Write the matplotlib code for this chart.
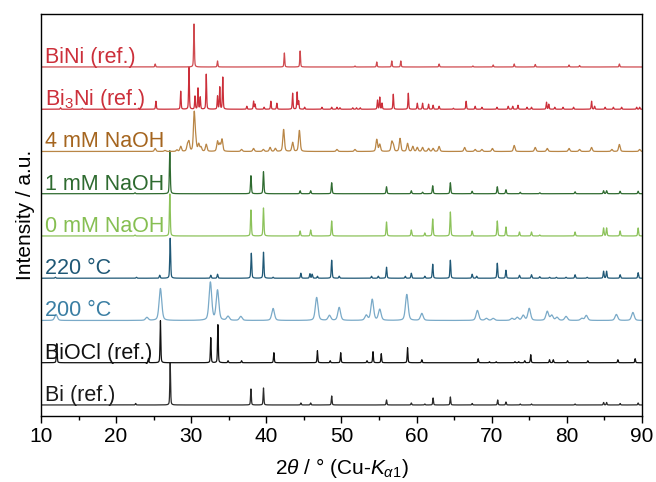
import numpy as np
import matplotlib.pyplot as plt
from matplotlib.ticker import MultipleLocator

plt.rcParams['font.family'] = ['Liberation Sans', 'DejaVu Sans']
plt.rcParams['mathtext.fontset'] = 'custom'
plt.rcParams['mathtext.rm'] = 'Liberation Sans'
plt.rcParams['mathtext.it'] = 'Liberation Sans:italic'

# peak lists: 2theta (deg) and height (same units as the offset step)
bini_pos = [25.2, 30.37, 33.5, 42.4, 44.5, 51.8, 54.7, 56.7, 57.9, 63.0, 67.5, 70.2, 73.0, 75.8, 80.3, 81.7, 87.0]
bini_h = [3, 43, 6, 14, 16, 1, 5, 6, 6, 3, 1, 2, 3, 2.5, 2, 1.5, 3]

bi3ni_pos = [12.6, 15.5, 23.0, 25.3, 28.6, 29.7, 30.5, 30.9, 31.2, 32.0, 33.5, 33.8, 34.2,
             37.4, 38.3, 38.5, 39.7, 40.6, 41.4, 43.5, 44.1, 44.3, 45.1, 47.4, 48.7, 49.4, 49.8,
             51.5, 52.0, 52.5, 54.8, 55.1, 55.4, 56.9, 58.9, 60.1, 60.8, 61.6, 62.2, 63.0,
             64.9, 66.6, 67.8, 68.7, 70.7, 72.2, 72.8, 73.5, 74.7, 75.3, 77.3, 77.6, 78.4, 79.5,
             80.9, 83.3, 83.7, 85.1, 86.2, 87.3, 89.3, 89.7]
bi3ni_h = [1.5, 1, 1, 8, 18, 42, 13, 21, 12, 35, 13, 22, 32,
           3, 8, 5, 2, 8, 6, 16, 17, 8, 2, 2, 2, 2, 1.5,
           1.5, 1.5, 1.5, 9, 12, 6, 15, 16, 6, 6, 5, 4, 3,
           1, 8, 3, 2, 2, 3, 3, 4, 2, 2, 7, 5, 2, 2,
           2, 8, 3, 2, 2, 2, 2, 2]

naoh4_pos = [25.2, 26.5, 28.1, 28.6, 29.5, 29.7, 30.4, 30.6, 31.0, 31.3, 32.0, 33.5, 33.8, 34.1,
             36.7, 38.3, 39.6, 40.5, 41.2, 42.3, 43.5, 44.4, 49.4, 51.8, 54.7, 55.1, 56.7, 56.9,
             57.8, 58.8, 59.5, 60.1, 60.8, 61.6, 62.2, 63.0, 66.4, 67.8, 68.7, 70.1, 73.0, 75.8,
             77.4, 80.3, 81.7, 83.3, 86.0, 87.0, 89.7]
naoh4_h = [3, 1, 1.5, 5, 6, 9, 38, 9, 7, 4, 7, 10, 7, 12,
           2, 3, 2, 4, 3, 22, 9, 21, 2, 2, 12, 7, 9, 6,
           13, 8, 5, 4, 4, 3, 3, 5, 4, 2, 2, 3, 6, 4,
           3, 3, 2, 4, 2, 7, 2]

naoh1_pos = [22.5, 27.15, 37.95, 39.62, 44.5, 45.9, 48.7, 56.0, 59.3, 60.8, 62.15, 64.5, 67.4,
             70.75, 71.9, 73.8, 76.4, 81.1, 84.9, 85.3, 87.1, 89.5]
naoh1_h = [1, 43, 18, 22, 3, 3, 11, 7, 3, 1.5, 8, 11, 2.5,
           7, 4, 1.5, 1, 2, 3, 3, 2.5, 2.5]

naoh0_pos = [22.5, 27.15, 37.95, 39.62, 44.5, 45.9, 48.7, 56.0, 59.3, 61.1, 62.15, 64.5, 67.4,
             70.75, 71.9, 73.7, 75.3, 76.4, 81.1, 84.9, 85.3, 87.1, 89.5]
naoh0_h = [1, 42, 26, 28, 5, 6, 15, 14, 6, 3, 17, 24, 5,
           15, 9, 4, 4, 1, 4, 8, 8, 5, 8]

t220_pos = [11.9, 22.7, 25.8, 27.2, 32.6, 33.5, 38.0, 39.62, 40.9, 44.6, 45.8, 46.1, 46.8, 48.7,
            49.7, 54.0, 54.9, 56.0, 58.5, 59.3, 61.1, 62.15, 64.5, 67.4, 68.0, 70.75, 71.9,
            73.7, 75.3, 76.4, 77.7, 78.6, 79.9, 81.1, 82.7, 84.9, 85.3, 87.1, 89.5]
t220_h = [1, 1, 3, 40, 3, 4, 25, 26, 1, 5, 4.5, 4, 2, 18,
          2, 2, 2, 11, 2, 5, 2, 14, 18, 4, 2, 15, 8,
          3, 3.5, 1.5, 1, 1, 1, 3.5, 1, 7, 7, 3.5, 5.5]

t200_pos = [12.0, 24.1, 25.9, 32.55, 33.5, 34.9, 36.6, 40.9, 46.7, 48.4, 49.7, 53.3, 54.1, 55.1,
            58.7, 60.7, 68.1, 69.3, 70.2, 72.7, 73.4, 74.2, 75.0, 77.4, 78.0, 78.7, 79.9,
            82.0, 82.6, 86.6, 88.8]
t200_h = [6, 3, 32, 38, 30, 4, 4, 12, 23, 5, 13, 5, 21, 11,
          26, 7, 10, 2, 2, 2, 3, 5, 12, 9, 5, 3, 4,
          2, 5, 6, 8]

biocl_pos = [12.1, 24.3, 25.9, 32.6, 33.55, 34.9, 36.7, 41.0, 46.8, 48.5, 49.9, 53.4, 54.2, 55.3,
             58.8, 60.7, 68.2, 69.7, 70.6, 73.1, 73.6, 74.4, 75.2, 77.7, 78.2, 80.1, 82.8,
             86.8, 89.1]
biocl_h = [19, 4, 42, 25, 38, 2, 2, 10, 12, 2, 10, 2, 11, 9,
           15, 3, 4, 1, 1, 1, 1, 2, 8, 3, 3, 2, 2,
           3, 4]

bi_pos = [22.6, 27.2, 37.95, 39.62, 44.6, 45.9, 48.7, 56.0, 59.3, 61.1, 62.2, 64.5, 67.4,
          70.8, 71.9, 73.8, 75.3, 81.1, 84.9, 85.3, 87.1, 89.5]
bi_h = [1.5, 42, 16, 17, 2, 2, 9, 5, 2, 1, 7, 8, 1.5,
        5, 3, 1, 1, 1, 2.5, 2.5, 1.5, 2]

labels = ['Bi (ref.)', 'BiOCl (ref.)', '200 °C', '220 °C', '0 mM NaOH', '1 mM NaOH',
          '4 mM NaOH', 'Bi$_3$Ni (ref.)', 'BiNi (ref.)']
peaks = [(bi_pos, bi_h), (biocl_pos, biocl_h), (t200_pos, t200_h), (t220_pos, t220_h),
         (naoh0_pos, naoh0_h), (naoh1_pos, naoh1_h), (naoh4_pos, naoh4_h),
         (bi3ni_pos, bi3ni_h), (bini_pos, bini_h)]
line_colors = ['#2b2b2b', '#111111', '#7aaac8', '#1f5876', '#8cc25a', '#2f6b30',
               '#b98646', '#cc2f3a', '#cf4a4f']
text_colors = ['#1a1a1a', '#111111', '#3a7ea3', '#1f5876', '#86bf52', '#2f6b30',
               '#a5651f', '#cc2f3a', '#cc2f3a']
fwhm = [0.12, 0.12, 0.42, 0.14, 0.14, 0.14, 0.25, 0.12, 0.12]
step = 42.25

tt = np.arange(10, 90.005, 0.01)


def pattern(pos, h, w):
    y = np.zeros_like(tt)
    for p, a in zip(pos, h):
        g = np.exp(-4 * np.log(2) * ((tt - p) / w) ** 2)
        lo = 1 / (1 + 4 * ((tt - p) / w) ** 2)
        y += a * (0.6 * g + 0.4 * lo)
    return y


fig = plt.figure(figsize=(6.56, 4.82), dpi=100)
ax = fig.add_axes([0.0625, 0.137, 0.916, 0.834])

for i, ((pos, h), lab) in enumerate(zip(peaks, labels)):
    off = i * step
    ax.plot(tt, pattern(pos, h, fwhm[i]) + off, color=line_colors[i], lw=0.9)
    ax.text(10.5, off + 4, lab, color=text_colors[i], fontsize=15.5, ha='left', va='baseline')

ax.set_xlim(10, 90)
ax.set_ylim(-11, 391)
ax.xaxis.set_major_locator(MultipleLocator(10))
ax.xaxis.set_minor_locator(MultipleLocator(5))
ax.tick_params(axis='x', which='major', direction='out', length=5, width=1, labelsize=15, pad=3)
ax.tick_params(axis='x', which='minor', direction='out', length=3, width=1)
ax.set_yticks([])
for s in ax.spines.values():
    s.set_linewidth(1)
ax.set_xlabel(r'2$\theta$ / ° (Cu-$K_{\alpha1}$)', fontsize=15, labelpad=7)
ax.set_ylabel('Intensity / a.u.', fontsize=15, labelpad=4)

fig.savefig('out.png', dpi=100)
